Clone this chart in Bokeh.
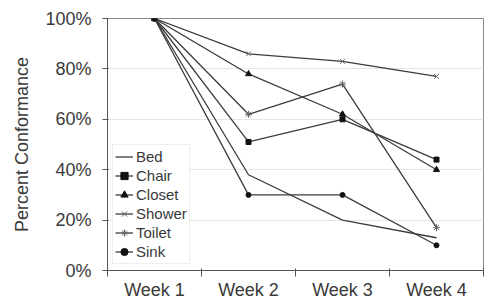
from bokeh.plotting import figure
from bokeh.embed import file_html
from bokeh.resources import INLINE
from bokeh.models import FixedTicker, Range1d

weeks = ["Week 1", "Week 2", "Week 3", "Week 4"]
bed = [100, 38, 20, 13]
chair = [100, 51, 60, 44]
closet = [100, 78, 62, 40]
shower = [100, 86, 83, 77]
toilet = [100, 62, 74, 17]
sink = [100, 30, 30, 10]
y_ticks = [0, 20, 40, 60, 80, 100]

xs = [i + 0.5 for i in range(len(weeks))]

FONT = "Liberation Sans"
TXT = "#3a3a3a"
LINE = "#3c3c3c"

p = figure(width=488, height=304, output_backend="svg", toolbar_location=None,
           x_range=Range1d(0, len(weeks)), y_range=Range1d(0, 100),
           min_border_left=107, min_border_right=5, min_border_top=18, min_border_bottom=34)

p.outline_line_color = "#8a8a8a"
p.outline_line_width = 1

series = [("Bed", bed, None), ("Chair", chair, "square"), ("Closet", closet, "triangle"),
          ("Shower", shower, "x"), ("Toilet", toilet, "asterisk"), ("Sink", sink, "circle")]

for name, ys, marker in series:
    p.line(xs, ys, line_color=LINE, line_width=1.3, legend_label=name)
    if marker is not None:
        if marker in ("x", "asterisk"):
            p.scatter(xs, ys, marker=marker, size=7, line_color="#666666", fill_color=None,
                      line_width=1, legend_label=name)
        else:
            size = 6 if marker == "triangle" else 5
            p.scatter(xs, ys, marker=marker, size=size, line_color="#111111",
                      fill_color="#111111", legend_label=name)

# x axis
p.xaxis.ticker = FixedTicker(ticks=xs, minor_ticks=list(range(len(weeks) + 1)))
p.xaxis.major_label_overrides = {x: w for x, w in zip(xs, weeks)}
p.xaxis.major_tick_out = 0
p.xaxis.major_tick_in = 0
p.xaxis.minor_tick_out = 6
p.xaxis.minor_tick_in = 2
p.xaxis.minor_tick_line_color = "#555555"
p.xaxis.axis_line_color = "#555555"
p.xaxis.major_label_standoff = 3
p.xaxis.major_label_text_font = FONT
p.xaxis.major_label_text_font_size = "18px"
p.xaxis.major_label_text_color = TXT
p.xgrid.grid_line_color = None

# y axis
p.yaxis.ticker = FixedTicker(ticks=y_ticks, minor_ticks=[])
p.yaxis.major_label_overrides = {t: f"{t}%" for t in y_ticks}
p.yaxis.major_tick_out = 5
p.yaxis.major_tick_in = 1
p.yaxis.major_tick_line_color = "#555555"
p.yaxis.axis_line_color = "#555555"
p.yaxis.major_label_standoff = 11
p.yaxis.major_label_text_font = FONT
p.yaxis.major_label_text_font_size = "18px"
p.yaxis.major_label_text_color = TXT
p.yaxis.axis_label = "Percent Conformance"
p.yaxis.axis_label_text_font = FONT
p.yaxis.axis_label_text_font_size = "18px"
p.yaxis.axis_label_text_font_style = "normal"
p.yaxis.axis_label_text_color = TXT
p.yaxis.axis_label_standoff = 10
p.ygrid.grid_line_color = "#e6e6e6"
p.ygrid.grid_line_width = 1

lg = p.legend[0]
lg.location = (5, 6)
lg.label_text_font = FONT
lg.label_text_font_size = "15px"
lg.label_text_color = TXT
lg.glyph_width = 18
lg.glyph_height = 19
lg.label_height = 19
lg.label_standoff = 3
lg.spacing = 0
lg.padding = 2
lg.margin = 0
lg.border_line_color = "#dddddd"
lg.background_fill_alpha = 1

open("out.html", "w").write(file_html(p, INLINE))
